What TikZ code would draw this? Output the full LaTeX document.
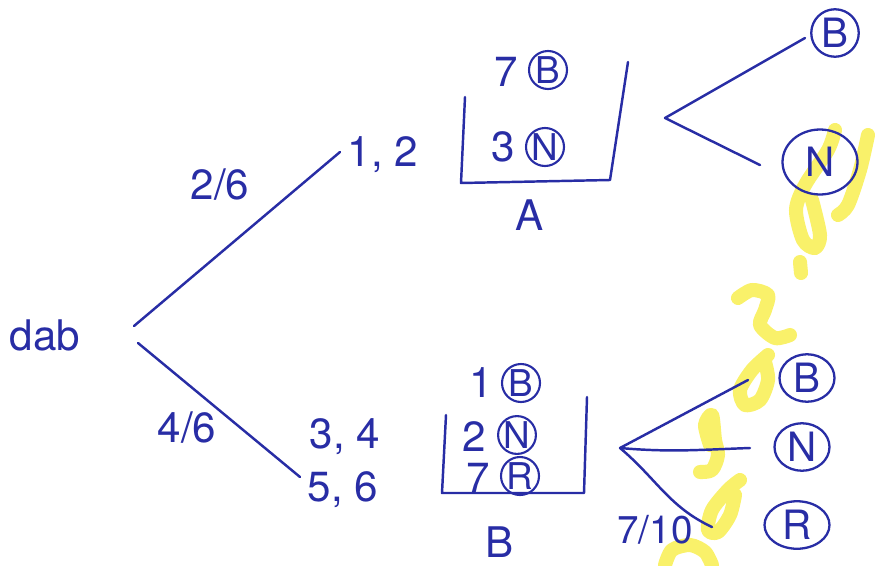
\documentclass[tikz,border=0pt]{standalone}
\usepackage{fontspec}
\setmainfont{TeX Gyre Heros}
\usetikzlibrary{shapes.geometric}
\definecolor{ink}{RGB}{40,45,165}
\definecolor{hl}{RGB}{248,238,80}
\begin{document}
\begin{tikzpicture}[x=0.02cm,y=-0.02cm,
  inkline/.style={draw=ink, line width=1.4pt, line cap=round, line join=round},
  hlline/.style={draw=hl, line width=8pt, line cap=round, line join=round, opacity=0.85},
  lbl/.style={text=ink, font=\fontsize{24}{28}\selectfont, inner sep=0pt},
  ball/.style={circle, draw=ink, line width=1.2pt, text=ink, inner sep=0pt, font=\fontsize{21}{24}\selectfont, minimum size=0.76cm},
  bigball/.style={ellipse, draw=ink, line width=1.3pt, text=ink, inner sep=0pt, font=\fontsize{23}{26}\selectfont, minimum width=1.1cm, minimum height=0.95cm}]
\useasboundingbox (0,0) rectangle (882,565);
% highlighter scribbles
\draw[hlline] plot[smooth] coordinates {(868,135) (860,170) (848,205) (838,215)};
\draw[hlline] plot[smooth] coordinates {(835,130) (828,150) (805,185) (796,210) (803,240) (815,248) (820,235) (812,200)};
\draw[hlline] (800,262) -- (801,273);
\draw[hlline] plot[smooth] coordinates {(738,298) (752,290) (768,295) (765,310) (760,325) (775,338) (790,335)};
\draw[hlline] plot[smooth] coordinates {(768,355) (752,370) (740,390) (745,405) (760,400) (768,380) (765,362)};
\draw[hlline] plot[smooth] coordinates {(710,445) (705,425) (712,415) (715,440) (718,455) (712,470) (700,472)};
\draw[hlline] plot[smooth] coordinates {(740,480) (728,490) (712,510) (708,530) (718,532) (730,515) (735,495)};
\draw[hlline] plot[smooth] coordinates {(665,565) (672,550) (690,545) (705,552) (712,565)};
% root
\node[lbl] (dab) at (45,335) {dab};
\coordinate (r1) at (134,326);
\coordinate (r2) at (138,343);
\coordinate (u1) at (340,152);
\coordinate (l1) at (300,477);
\draw[inkline] (r1) -- (u1);
\draw[inkline] (r2) -- (l1);
\node[lbl] (p26) at (220,185) {2/6};
\node[lbl] (p46) at (187,428) {4/6};
\node[lbl] (n12) at (383,155) {1, 2};
\node[lbl] (n34) at (345,437) {3, 4};
\node[lbl] (n56) at (343,490) {5, 6};
% box A
\coordinate (a1) at (465,97);
\coordinate (a2) at (461,183);
\coordinate (a3) at (610,180);
\coordinate (a4) at (628,62);
\draw[inkline] (a1) -- (a2) -- (a3) -- (a4);
\node[lbl] (a7) at (506,72) {7};
\node[ball] (aB) at (548,70) {B};
\node[lbl] (a3n) at (503,147) {3};
\node[ball] (aN) at (545,147) {N};
\node[lbl] (A) at (530,215) {A};
% box B
\coordinate (b1) at (446,415);
\coordinate (b2) at (442,493);
\coordinate (b3) at (584,493);
\coordinate (b4) at (587,397);
\draw[inkline] (b1) -- (b2) -- (b3) -- (b4);
\node[lbl] (b1n) at (481,383) {1};
\node[ball] (bB) at (521,383) {B};
\node[lbl] (b2n) at (474,437) {2};
\node[ball, minimum size=0.68cm] (bN) at (517,435) {N};
\node[lbl] (b7n) at (478,478) {7};
\node[ball] (bR) at (520,476) {R};
\node[lbl] (Bl) at (500,542) {B};
% fork upper
\coordinate (fa) at (665,118);
\coordinate (fa1) at (805,38);
\coordinate (fa2) at (760,165);
\draw[inkline] (fa1) -- (fa) -- (fa2);
\node[bigball, minimum width=0.95cm] (oB1) at (835,33) {B};
\node[bigball, minimum width=1.5cm, minimum height=1.3cm] (oN1) at (820,162) {N};
% fork lower
\coordinate (fb) at (620,448);
\coordinate (fb1) at (748,380);
\coordinate (fb2) at (750,448);
\coordinate (fb3) at (712,527);
\draw[inkline] (fb) -- (fb1);
\draw[inkline] (fb) to[out=-5,in=182] (fb2);
\draw[inkline] (fb) to[out=-40,in=155] (fb3);
\node[bigball] (oB2) at (807,378) {B};
\node[bigball] (oN2) at (802,447) {N};
\node[bigball, minimum width=1.3cm] (oR2) at (797,525) {R};
\node[lbl, font=\fontsize{22}{26}\selectfont] (p710) at (655,530) {7/10};
\end{tikzpicture}
\end{document}
